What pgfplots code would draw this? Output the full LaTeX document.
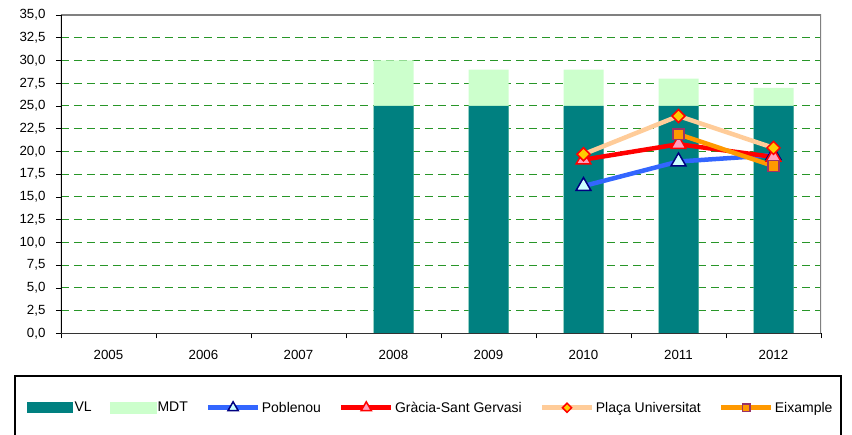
\documentclass[border=0pt]{standalone}
\usepackage{fontspec}
\setmainfont{Liberation Sans}
\usepackage{pgfplots}
\pgfplotsset{compat=1.18}

\definecolor{vlcol}{HTML}{008080}
\definecolor{mdtcol}{HTML}{CCFFCC}
\definecolor{pobcol}{HTML}{3366FF}
\definecolor{gracol}{HTML}{FF0000}
\definecolor{placol}{HTML}{FFCC99}
\definecolor{eixcol}{HTML}{FF9900}
\definecolor{gridgreen}{RGB}{40,150,40}

\begin{document}
\begin{tikzpicture}
\begin{axis}[
    at={(0pt,0pt)}, anchor=south west,
    scale only axis, width=760pt, height=318.5pt,
    xmin=-0.5, xmax=7.5, ymin=0, ymax=35,
    xtick={0,1,2,3,4,5,6,7},
    xticklabels={2005,2006,2007,2008,2009,2010,2011,2012},
    major x tick style={draw=none},
    minor xtick={-0.5,0.5,1.5,2.5,3.5,4.5,5.5,6.5,7.5},
    ytick={0,2.5,5,7.5,10,12.5,15,17.5,20,22.5,25,27.5,30,32.5,35},
    tick align=outside, tick pos=left,
    major tick length=5pt, minor tick length=5pt,
    tick style={black, line width=0.8pt},
    ymajorgrids,
    major grid style={gridgreen, line width=1pt, dash pattern=on 8pt off 5pt},
    axis line style={draw=none},
    tick label style={font=\fontsize{13.3}{15}\selectfont},
    y tick label style={/pgf/number format/.cd, fixed, fixed zerofill, precision=1, use comma, assume math mode=true},
    yticklabel shift=7pt,
    xticklabel shift=8pt,
    legend columns=6,
    legend style={at={(-0.0450,-0.2330)}, anchor=west, draw=none, fill=none,
        inner sep=0pt, font=\fontsize{14}{16}\selectfont,
        nodes={inner xsep=1.5pt, inner ysep=0pt},
        /tikz/every even column/.append style={column sep=16.5pt}},
    legend image code/.code={\draw[#1,mark repeat=2,mark phase=2,every mark/.append style={scale=0.7}]
        plot coordinates {(0pt,0pt) (25pt,0pt) (50pt,0pt)};},
]
% MDT drawn as the full bar height, VL on top of it
\addplot[ybar, bar width=40pt, fill=mdtcol, draw=none, forget plot]
    coordinates {(3,30) (4,29) (5,29) (6,28) (7,27)};
\addplot[ybar, bar width=40pt, fill=vlcol, draw=none,
    legend image code/.code={\fill[vlcol] (0pt,-5.5pt) rectangle (46pt,5.5pt);}]
    coordinates {(3,25) (4,25) (5,25) (6,25) (7,25)};
\addlegendentry{VL}
\addlegendimage{legend image code/.code={\fill[mdtcol] (0pt,-5.5pt) rectangle (46pt,5.5pt);}}
\addlegendentry{MDT}

\addplot[pobcol, line width=4.5pt, mark=triangle*, mark size=8.5pt,
    mark options={draw={rgb,255:red,0;green,0;blue,128}, fill={rgb,255:red,204;green,255;blue,255}, line width=1.5pt}]
    coordinates {(5,16.2) (6,18.9) (7,19.6)};
\addlegendentry{Poblenou}
\addplot[gracol, line width=4.5pt, mark=triangle*, mark size=8.5pt,
    mark options={draw=gracol, fill={rgb,255:red,255;green,160;blue,190}, line width=1.5pt}]
    coordinates {(5,19.1) (6,20.8) (7,19.4)};
\addlegendentry{Gràcia-Sant Gervasi}
\addplot[placol, line width=4.5pt, mark=square*, mark size=4.6pt,
    mark options={rotate=45, draw=gracol, fill={rgb,255:red,255;green,204;blue,0}, line width=1.5pt}]
    coordinates {(5,19.7) (6,23.9) (7,20.4)};
\addlegendentry{Plaça Universitat}
\addplot[eixcol, line width=4.5pt, mark=square*, mark size=5.4pt,
    mark options={draw={rgb,255:red,153;green,51;blue,102}, fill=eixcol, line width=1.5pt}]
    coordinates {(6,21.9) (7,18.4)};
\addlegendentry{Eixample}

\draw[gray, line width=2.5pt] (rel axis cs:0,1) -- (rel axis cs:1,1) -- (rel axis cs:1,0);
\draw[black, line width=1.2pt] (rel axis cs:0,1) -- (rel axis cs:0,0);
\draw[black!80, line width=1.8pt] (rel axis cs:0,0) -- (rel axis cs:1,0);
\end{axis}
\draw[black, line width=1.2pt] (-46pt,-130pt) -- (-46pt,-42.5pt) -- (780pt,-42.5pt) -- (780pt,-130pt);
\pgfresetboundingbox
\useasboundingbox (-61pt,-101.5pt) rectangle (791pt,333.5pt);
\end{tikzpicture}
\end{document}
